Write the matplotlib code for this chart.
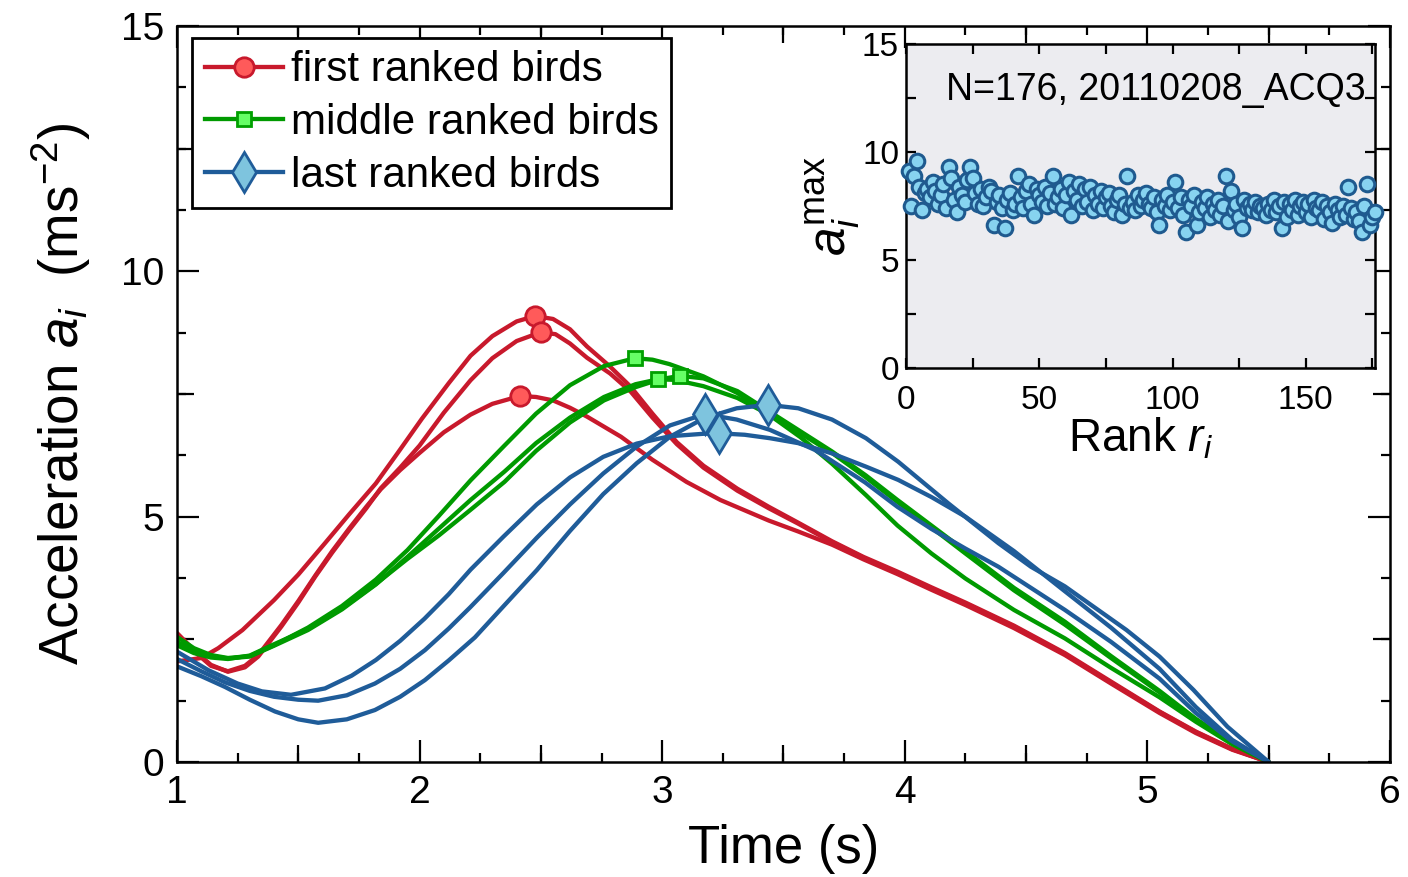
import numpy as np
import matplotlib
matplotlib.use('Agg')
import matplotlib.pyplot as plt
from matplotlib.lines import Line2D
from matplotlib.ticker import MultipleLocator

plt.rcParams['font.family'] = 'Liberation Sans'
plt.rcParams['mathtext.fontset'] = 'custom'
plt.rcParams['mathtext.rm'] = 'Liberation Sans'
plt.rcParams['mathtext.it'] = 'Liberation Sans:italic'

# acceleration profiles (time in s, acceleration in m/s^2)
red_1_t = [1.00, 1.10, 1.17, 1.27, 1.40, 1.50, 1.61, 1.71, 1.82, 1.91, 2.01, 2.12, 2.21, 2.30, 2.40,
           2.476, 2.55, 2.62, 2.69, 2.785, 2.87, 2.96, 3.06, 3.17, 3.31, 3.44, 3.56, 3.70, 3.83, 3.97,
           4.11, 4.25, 4.45, 4.66, 4.85, 5.05, 5.20, 5.35, 5.50]
red_1_a = [2.05, 2.12, 2.32, 2.69, 3.30, 3.82, 4.46, 5.05, 5.68, 6.30, 7.00, 7.72, 8.28, 8.68, 8.98,
           9.09, 9.03, 8.82, 8.47, 8.06, 7.65, 7.10, 6.52, 6.04, 5.57, 5.20, 4.88, 4.50, 4.18, 3.88,
           3.56, 3.25, 2.78, 2.22, 1.64, 1.03, 0.62, 0.27, 0.00]
red_2_t = [1.00, 1.07, 1.14, 1.21, 1.28, 1.335, 1.43, 1.50, 1.57, 1.64, 1.71, 1.78, 1.84, 1.92, 2.00,
           2.10, 2.21, 2.30, 2.40, 2.50, 2.56, 2.62, 2.69, 2.785, 2.87, 2.96, 3.06, 3.17, 3.31, 3.44,
           3.56, 3.70, 3.83, 3.97, 4.11, 4.25, 4.45, 4.66, 4.85, 5.05, 5.20, 5.35, 5.50]
red_2_a = [2.63, 2.28, 1.98, 1.84, 1.93, 2.15, 2.76, 3.25, 3.78, 4.27, 4.73, 5.17, 5.58, 6.00, 6.45,
           7.12, 7.78, 8.23, 8.58, 8.76, 8.72, 8.53, 8.24, 7.92, 7.55, 7.02, 6.48, 6.00, 5.53, 5.17,
           4.86, 4.48, 4.16, 3.86, 3.54, 3.23, 2.76, 2.20, 1.62, 1.02, 0.61, 0.26, 0.00]
red_3_t = [1.00, 1.07, 1.14, 1.21, 1.28, 1.335, 1.43, 1.50, 1.57, 1.64, 1.71, 1.78, 1.84, 1.92, 2.00,
           2.10, 2.21, 2.30, 2.414, 2.48, 2.55, 2.62, 2.69, 2.83, 2.96, 3.10, 3.24, 3.44, 3.56, 3.70,
           3.83, 3.97, 4.11, 4.25, 4.45, 4.66, 4.85, 5.05, 5.20, 5.35, 5.50]
red_3_a = [2.60, 2.26, 1.96, 1.85, 1.96, 2.18, 2.79, 3.28, 3.80, 4.30, 4.76, 5.20, 5.56, 5.95, 6.30,
           6.72, 7.08, 7.30, 7.46, 7.44, 7.37, 7.22, 7.04, 6.63, 6.16, 5.71, 5.34, 4.92, 4.70, 4.43,
           4.13, 3.83, 3.51, 3.20, 2.73, 2.18, 1.60, 1.00, 0.59, 0.25, 0.00]

green_1_t = [1.00, 1.07, 1.14, 1.21, 1.30, 1.40, 1.54, 1.68, 1.82, 1.95, 2.08, 2.21, 2.35, 2.48, 2.62,
             2.76, 2.888, 2.96, 3.03, 3.17, 3.31, 3.44, 3.57, 3.70, 3.84, 3.97, 4.11, 4.25, 4.45, 4.66,
             4.85, 5.05, 5.20, 5.35, 5.50]
green_1_a = [2.55, 2.32, 2.18, 2.12, 2.16, 2.38, 2.74, 3.18, 3.72, 4.32, 5.02, 5.74, 6.45, 7.10, 7.68,
             8.07, 8.23, 8.20, 8.11, 7.86, 7.52, 7.08, 6.62, 6.08, 5.44, 4.82, 4.25, 3.74, 3.10, 2.52,
             1.92, 1.32, 0.82, 0.36, 0.00]
green_2_t = [1.00, 1.07, 1.14, 1.21, 1.30, 1.40, 1.54, 1.68, 1.82, 1.95, 2.08, 2.21, 2.35, 2.48, 2.62,
             2.76, 2.89, 2.983, 3.05, 3.17, 3.31, 3.44, 3.57, 3.70, 3.84, 3.97, 4.11, 4.25, 4.45, 4.66,
             4.85, 5.05, 5.20, 5.35, 5.50]
green_2_a = [2.45, 2.26, 2.16, 2.11, 2.15, 2.37, 2.69, 3.11, 3.62, 4.18, 4.76, 5.34, 5.92, 6.50, 7.02,
             7.44, 7.70, 7.80, 7.79, 7.66, 7.42, 7.08, 6.70, 6.30, 5.80, 5.30, 4.78, 4.25, 3.50, 2.80,
             2.12, 1.42, 0.86, 0.38, 0.00]
green_3_t = [1.00, 1.07, 1.14, 1.21, 1.30, 1.40, 1.54, 1.68, 1.82, 1.95, 2.08, 2.21, 2.35, 2.48, 2.62,
             2.76, 2.89, 2.99, 3.073, 3.17, 3.31, 3.44, 3.57, 3.70, 3.84, 3.97, 4.11, 4.25, 4.45, 4.66,
             4.85, 5.05, 5.20, 5.35, 5.50]
green_3_a = [2.38, 2.22, 2.13, 2.10, 2.17, 2.40, 2.71, 3.13, 3.63, 4.14, 4.62, 5.14, 5.71, 6.34, 6.92,
             7.37, 7.64, 7.80, 7.87, 7.82, 7.56, 7.15, 6.74, 6.33, 5.84, 5.34, 4.82, 4.30, 3.55, 2.86,
             2.16, 1.45, 0.88, 0.39, 0.00]

blue_1_t = [1.00, 1.13, 1.25, 1.35, 1.47, 1.61, 1.72, 1.82, 1.92, 2.02, 2.12, 2.21, 2.345, 2.483, 2.62,
            2.757, 2.895, 3.032, 3.17, 3.234, 3.34, 3.444, 3.56, 3.70, 3.84, 3.973, 4.11, 4.25, 4.45, 4.66,
            4.85, 5.05, 5.20, 5.35, 5.50]
blue_1_a = [2.25, 1.87, 1.60, 1.44, 1.37, 1.50, 1.76, 2.08, 2.47, 2.92, 3.42, 3.92, 4.59, 5.25, 5.80,
            6.22, 6.49, 6.64, 6.69, 6.70, 6.67, 6.60, 6.50, 6.29, 6.02, 5.75, 5.40, 5.00, 4.30, 3.48,
            2.74, 1.90, 1.12, 0.45, 0.00]
blue_2_t = [1.00, 1.10, 1.20, 1.30, 1.40, 1.50, 1.582, 1.70, 1.816, 1.92, 2.022, 2.12, 2.208, 2.345, 2.483,
            2.62, 2.757, 2.895, 3.032, 3.176, 3.307, 3.444, 3.63, 3.836, 3.97, 4.11, 4.25, 4.386, 4.52, 4.66,
            4.85, 5.05, 5.20, 5.35, 5.50]
blue_2_a = [2.10, 1.85, 1.62, 1.45, 1.33, 1.27, 1.25, 1.36, 1.60, 1.90, 2.28, 2.72, 3.15, 3.85, 4.57,
            5.25, 5.88, 6.43, 6.86, 7.09, 6.98, 6.77, 6.36, 5.70, 5.20, 4.75, 4.35, 3.98, 3.55, 3.10,
            2.45, 1.70, 1.00, 0.42, 0.00]
blue_3_t = [1.00, 1.10, 1.198, 1.30, 1.404, 1.50, 1.582, 1.70, 1.816, 1.92, 2.022, 2.12, 2.228, 2.345, 2.483,
            2.62, 2.757, 2.895, 3.032, 3.17, 3.307, 3.436, 3.561, 3.70, 3.84, 3.973, 4.18, 4.386, 4.52, 4.66,
            4.914, 5.05, 5.19, 5.33, 5.50]
blue_3_a = [1.95, 1.75, 1.53, 1.27, 1.03, 0.87, 0.80, 0.87, 1.06, 1.33, 1.67, 2.07, 2.54, 3.17, 3.91,
            4.71, 5.46, 6.09, 6.63, 7.00, 7.21, 7.28, 7.21, 6.98, 6.60, 6.12, 5.27, 4.46, 3.98, 3.58,
            2.69, 2.15, 1.47, 0.72, 0.00]

# peak acceleration of each bird
red_peak_t = [2.476, 2.50, 2.414]
red_peak_a = [9.09, 8.76, 7.46]
green_peak_t = [2.888, 2.983, 3.073]
green_peak_a = [8.23, 7.80, 7.87]
blue_peak_t = [3.176, 3.234, 3.436]
blue_peak_a = [7.09, 6.70, 7.28]

# maximum acceleration vs rank, N=176
amax = [9.1, 7.5, 8.9, 9.6, 8.4, 7.3, 8.1, 8.3, 7.9, 8.6, 8.2, 7.6, 8.0, 8.5, 7.4, 9.3, 8.8, 7.8, 7.2, 8.4,
        8.0, 7.7, 8.7, 9.3, 8.8, 8.1, 7.6, 8.3, 7.5, 7.9, 8.4, 8.2, 6.6, 7.7, 8.0, 7.4, 6.5, 7.8, 8.1, 7.3,
        7.6, 8.9, 7.9, 7.4, 8.2, 8.5, 7.6, 7.1, 8.3, 8.0, 7.7, 8.4, 7.5, 8.1, 8.9, 7.6, 7.9, 8.3, 7.4, 8.0,
        8.6, 7.1, 8.2, 7.8, 8.5, 7.5, 8.3, 7.7, 8.4, 7.3, 8.0, 7.6, 8.2, 7.4, 7.9, 8.1, 7.5, 7.2, 7.8, 8.0,
        7.1, 7.6, 8.9, 7.4, 7.7, 7.3, 8.0, 7.5, 7.8, 8.1, 7.6, 7.4, 7.9, 7.2, 6.6, 7.8, 7.5, 8.0, 7.3, 7.7,
        8.6, 7.4, 7.9, 7.1, 6.3, 7.8, 7.5, 8.0, 6.6, 7.2, 7.7, 7.4, 7.9, 7.0, 7.6, 7.3, 7.8, 7.1, 7.5, 8.9,
        6.8, 8.2, 7.3, 7.6, 7.0, 6.5, 7.8, 7.4, 7.6, 7.3, 7.7, 7.2, 7.5, 7.4, 7.1, 7.6, 7.3, 7.8, 7.2, 7.5,
        6.5, 7.7, 7.0, 7.6, 7.3, 7.8, 7.1, 7.5, 7.7, 7.2, 7.6, 7.0, 7.8, 7.4, 7.3, 7.7, 6.9, 7.5, 7.2, 6.7,
        7.6, 7.3, 7.0, 7.5, 7.1, 8.4, 7.4, 6.9, 7.2, 6.8, 6.3, 7.5, 8.5, 6.6, 7.0, 7.2]
rank = np.arange(1, len(amax) + 1)

groups = [
    ('first ranked birds', [(red_1_t, red_1_a), (red_2_t, red_2_a), (red_3_t, red_3_a)],
     red_peak_t, red_peak_a, dict(color='#c8192c', marker='o', ms=14, mfc='#ff5a5a', mec='#c8192c')),
    ('middle ranked birds', [(green_1_t, green_1_a), (green_2_t, green_2_a), (green_3_t, green_3_a)],
     green_peak_t, green_peak_a, dict(color='#009a00', marker='s', ms=10, mfc='#66ff66', mec='#00a000')),
    ('last ranked birds', [(blue_1_t, blue_1_a), (blue_2_t, blue_2_a), (blue_3_t, blue_3_a)],
     blue_peak_t, blue_peak_a, dict(color='#1f5c99', marker='d', ms=20, mfc='#7ec4de', mec='#1f5c99')),
]

fig = plt.figure(figsize=(14.08, 8.77), dpi=100)
ax = fig.add_axes([0.1257, 0.1311, 0.8615, 0.8392])

handles = []
for label, curves, pk_t, pk_a, st in groups:
    for t, a in curves:
        ax.plot(t, a, color=st['color'], lw=3.1, solid_joinstyle='round', solid_capstyle='round',
                zorder=2)
for label, curves, pk_t, pk_a, st in groups:
    ax.plot(pk_t, pk_a, ls='none', marker=st['marker'], ms=st['ms'], mfc=st['mfc'],
            mec=st['mec'], mew=2, zorder=4)
    handles.append(Line2D([], [], color=st['color'], lw=3.1, marker=st['marker'], ms=st['ms'],
                          mfc=st['mfc'], mec=st['mec'], mew=2, label=label))

ax.set_xlim(1, 6)
ax.set_ylim(0, 15)
ax.set_xticks(np.arange(1, 7))
ax.set_yticks([0, 5, 10, 15])
ax.xaxis.set_minor_locator(MultipleLocator(0.25))
ax.yaxis.set_minor_locator(MultipleLocator(1.25))
ax.tick_params(which='major', direction='in', length=16, width=1.6, labelsize=28, pad=9,
               top=True, right=True)
ax.tick_params(which='minor', direction='in', length=6.5, width=1.6, top=True, right=True)
for sp in ax.spines.values():
    sp.set_linewidth(1.8)

# half-way ticks, a bit longer than the minor ones
for side in ('bottom', 'top'):
    sec = ax.secondary_xaxis(side)
    sec.set_xticks(np.arange(1.5, 6, 1.0))
    sec.tick_params(direction='in', length=12, width=1.6, labelbottom=False, labeltop=False)
    sec.spines[side].set_visible(False)
for side in ('left', 'right'):
    sec = ax.secondary_yaxis(side)
    sec.set_yticks([2.5, 7.5, 12.5])
    sec.tick_params(direction='in', length=12, width=1.6, labelleft=False, labelright=False)
    sec.spines[side].set_visible(False)

ax.set_xlabel('Time (s)', fontsize=38, labelpad=10)
ax.set_ylabel(r'Acceleration $a_i$  (ms$^{-2}$)', fontsize=39.5, labelpad=20)

leg = ax.legend(handles=handles, loc='upper left', bbox_to_anchor=(0.0124, 0.984),
                borderaxespad=0, fontsize=30.3, frameon=True, fancybox=False, framealpha=1,
                edgecolor='black', handlelength=1.85, handletextpad=0.2, labelspacing=0.3,
                borderpad=0.3)
leg.get_frame().set_linewidth(2)

# inset: peak acceleration against rank
axin = fig.add_axes([0.6435, 0.5804, 0.3331, 0.3694])
axin.set_facecolor('#ececf0')
axin.plot(rank, amax, ls='none', marker='o', ms=10.5, mfc='#87d3f0', mec='#1f5a8f', mew=2.2,
          clip_on=False, zorder=3)
axin.set_xlim(0, 176)
axin.set_ylim(0, 15)
axin.xaxis.set_major_locator(MultipleLocator(50))
axin.xaxis.set_minor_locator(MultipleLocator(25))
axin.yaxis.set_major_locator(MultipleLocator(5))
axin.yaxis.set_minor_locator(MultipleLocator(2.5))
axin.tick_params(which='both', direction='in', length=7, width=1.6, top=True, right=True)
axin.tick_params(which='major', labelsize=24, pad=5)
axin.tick_params(axis='x', which='major', pad=12)
for sp in axin.spines.values():
    sp.set_linewidth(1.8)
axin.set_xlabel('Rank $r_i$', fontsize=33, labelpad=0)
axin.set_ylabel(r'$a_i^{\mathrm{max}}$', fontsize=37, labelpad=0)
axin.text(0.979, 0.915, 'N=176, 20110208_ACQ3', ha='right', va='top', fontsize=27,
          transform=axin.transAxes)

fig.savefig('out.png', dpi=100)
